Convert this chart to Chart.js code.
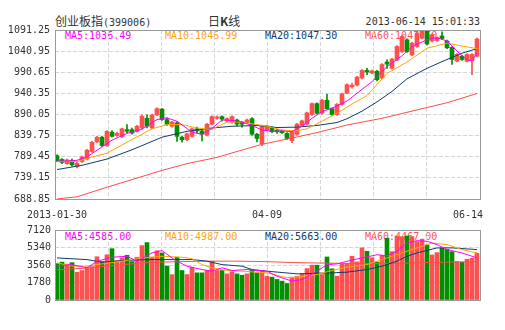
<!DOCTYPE html>
<html>
<head>
<meta charset="utf-8">
<script src="https://cdn.jsdelivr.net/npm/chart.js@4"></script>
<style>
  html, body { margin: 0; padding: 0; background: #fff; }
  #wrap { position: relative; width: 505px; height: 330px; overflow: hidden; }
  .t { position: absolute; white-space: nowrap; font: 10px/12px "DejaVu Sans Mono", monospace; color: #333; }
  .cjk { font: 12px/12px "Noto Sans CJK SC", sans-serif; }
  canvas { position: absolute; left: 0; }
</style>
</head>
<body>
<div id="wrap">
  <div class="t cjk" style="left:55px;top:15px">创业板指<span style="font:10px/12px 'DejaVu Sans Mono',monospace">(399006)</span></div>
  <div class="t cjk" style="left:208px;top:15px">日<b>K</b>线</div>
  <div class="t" style="right:25px;top:16px">2013-06-14 15:01:33</div>

  <div class="t" style="left:65px;top:30px;color:#ff00ff">MA5:1036.49</div>
  <div class="t" style="left:165px;top:30px;color:#ffa500">MA10:1046.99</div>
  <div class="t" style="left:265px;top:30px;color:#103c6c">MA20:1047.30</div>
  <div class="t" style="left:365px;top:30px;color:#ff5555">MA60:1047.60</div>

  <div class="t" style="left:65px;top:231px;color:#ff00ff">MA5:4585.00</div>
  <div class="t" style="left:165px;top:231px;color:#ffa500">MA10:4987.00</div>
  <div class="t" style="left:265px;top:231px;color:#103c6c">MA20:5663.00</div>
  <div class="t" style="left:365px;top:231px;color:#ff5555">MA60:4467.00</div>

  <canvas id="main" width="505" height="225" style="top:0"></canvas>
  <canvas id="vol" width="505" height="92" style="top:218px"></canvas>
</div>
<script>
// daily candles, 2013-01-30 .. 2013-06-14
const opens = [792, 783, 773, 781, 766, 778, 784, 802, 825, 836,
  816, 848, 840, 837, 854, 854, 850, 858, 881, 858,
  889, 903, 878, 862, 870, 836, 830, 838, 856, 851,
  841, 867, 881, 885, 875, 872, 877, 872, 871, 880,
  843, 820, 853, 859, 853, 851, 845, 828, 843, 864,
  867, 890, 916, 893, 924, 904, 890, 914, 941, 956,
  960, 977, 995, 989, 993, 977, 1015, 1000, 1020, 1040,
  1068, 1032, 1052, 1072, 1090, 1065, 1066, 1077, 1065, 1050,
  1017, 1029, 1017, 1018, 1029];
const highs = [794, 785, 784, 784, 776, 791, 807, 826, 838, 838,
  852, 852, 848, 858, 866, 858, 864, 889, 889, 891,
  906, 904, 882, 874, 873, 838, 846, 858, 860, 855,
  869, 887, 887, 887, 882, 887, 879, 874, 879, 883,
  845, 865, 865, 861, 855, 853, 847, 851, 869, 877,
  896, 918, 918, 926, 938, 906, 916, 941, 963, 964,
  981, 997, 1000, 996, 995, 1011, 1020, 1024, 1054, 1078,
  1070, 1062, 1086, 1091, 1091, 1082, 1075, 1087, 1067, 1052,
  1035, 1031, 1035, 1035, 1072];
const lows = [778, 773, 771, 767, 763, 776, 782, 800, 823, 814,
  814, 836, 838, 835, 846, 843, 848, 856, 858, 856,
  887, 876, 864, 860, 826, 824, 828, 836, 845, 827,
  839, 865, 879, 874, 873, 869, 863, 860, 869, 840,
  825, 816, 851, 847, 845, 845, 831, 823, 841, 862,
  865, 888, 891, 891, 902, 888, 888, 912, 939, 953,
  958, 975, 985, 987, 970, 975, 1000, 998, 1018, 1038,
  1038, 1030, 1050, 1070, 1056, 1063, 1064, 1068, 1047, 1009,
  1015, 1019, 1015, 985, 1027];
const closes = [780, 776, 782, 770, 774, 789, 805, 824, 836, 816,
  850, 838, 845, 856, 850, 846, 862, 886, 862, 889,
  904, 878, 866, 872, 838, 830, 844, 856, 851, 843,
  867, 885, 884, 879, 880, 885, 867, 867, 877, 843,
  833, 863, 863, 849, 849, 847, 833, 849, 867, 875,
  894, 916, 893, 924, 904, 890, 914, 939, 961, 960,
  979, 995, 991, 994, 973, 1009, 1010, 1022, 1052, 1076,
  1040, 1060, 1084, 1090, 1058, 1080, 1073, 1071, 1049, 1021,
  1033, 1021, 1033, 1033, 1070];
const volumes = [3700, 3850, 3650, 3800, 2830, 3000, 3270, 3400, 4400, 3910,
  4600, 5220, 4000, 4280, 4550, 3910, 4350, 5530, 5840, 4350,
  5000, 4790, 3450, 2580, 4350, 3000, 2590, 3330, 2760, 2760,
  3000, 3940, 3000, 3000, 2660, 2860, 2660, 2520, 2660, 3100,
  2760, 2930, 2420, 2320, 2090, 1920, 1680, 2320, 2420, 2660,
  3200, 3540, 3540, 2590, 4380, 3170, 2420, 3670, 3670, 4450,
  3880, 5300, 4960, 4300, 3850, 4550, 6280, 4920, 6510, 6440,
  6510, 6440, 5940, 6170, 5600, 4580, 4820, 5260, 5160, 4920,
  3910, 3840, 4150, 4250, 4750];

// moving average lines: [day index, value]
const ma5 = [[0,780],[2,779],[4,781],[6,789],[8,805],[11,829],[14,845],[17,855],[20,878],[22,882],
  [24,874],[27,848],[29,843],[31,857],[33,877],[35,876],[37,872],[39,864],[41,853],[43,850],
  [45,851],[47,849],[49,862],[51,881],[53,897],[55,905],[58,922],[61,950],[63,968],[66,1004],
  [69,1030],[71,1052],[74,1068],[76,1073],[78,1065],[80,1041],[82,1020],[83,1018],[84,1036]];
const ma10 = [[0,778],[4,778],[7,789],[10,798],[14,824],[19,856],[22,866],[25,866],[28,858],[31,855],
  [34,872],[37,872],[40,866],[42,862],[45,853],[48,851],[50,856],[53,874],[56,893],[59,915],
  [62,935],[66,988],[70,1015],[74,1048],[78,1060],[81,1053],[84,1047]];
const ma20 = [[0,759],[5,769],[10,784],[15,806],[21,836],[26,850],[31,858],[35,862],[40,864],[44,859],
  [48,860],[52,864],[56,871],[58,880],[61,898],[64,920],[67,945],[70,975],[74,1000],[77,1016],
  [81,1036],[84,1047]];
const ma60 = [[0,689],[4,694],[10,717],[15,735],[21,757],[26,773],[32,788],[36,802],[41,819],[47,834],
  [52,847],[58,865],[65,881],[72,901],[78,918],[84,940]];

const volMa5 = [[0,3440],[3,3600],[6,3270],[8,3940],[11,4350],[14,4450],[16,3940],[19,4790],[21,5030],[23,4280],
  [24,3950],[26,3440],[29,3100],[31,2930],[33,3270],[35,3000],[38,3100],[42,2930],[44,2420],[47,1920],
  [49,2080],[52,2930],[54,3600],[56,3670],[58,3940],[61,4280],[64,4600],[66,4500],[68,4960],[70,5800],
  [72,6040],[74,5970],[76,5630],[78,5130],[81,4790],[84,4280]];
const volMa10 = [[0,3780],[3,3440],[6,3440],[8,3600],[13,3950],[17,4280],[21,4450],[25,4350],[27,4200],[29,3600],
  [31,3270],[34,3000],[37,2930],[42,2760],[46,2260],[48,2330],[52,2600],[55,3000],[58,3340],[62,3600],
  [65,4110],[70,4960],[72,5300],[75,5800],[78,5640],[81,5130],[84,4790]];
const volMa20 = [[0,4280],[6,4110],[9,3840],[13,4010],[18,4110],[23,4110],[27,4110],[30,3950],[33,3600],[37,3440],
  [39,3100],[42,2930],[48,2660],[55,2760],[58,2830],[62,3100],[65,3440],[68,3950],[70,4450],[72,4790],
  [76,5300],[79,5300],[84,5130]];
const volMa60 = [[0,3070],[6,3250],[12,3550],[18,3800],[24,3900],[30,3950],[36,3950],[42,3900],[48,3800],[54,3750],
  [60,3700],[66,3720],[72,3780],[78,3850],[84,3900]];

const priceTicks = [688.85, 739.15, 789.45, 839.75, 890.05, 940.35, 990.65, 1040.95, 1091.25];
const volTicks = [0, 1780, 3560, 5340, 7120];
const dateLabels = ['2013-01-30', '04-09', '06-14'];
const dateIdx = [0, 42, 84];

const UP = '#ff5050', DOWN = '#009000';
const candleColor = opens.map((o, i) => closes[i] >= o ? UP : DOWN);
const xMin = -0.4, xMax = opens.length - 0.4;
const tickFont = { family: 'DejaVu Sans Mono', size: 10 };
const GRID = '#d6d6d6';

function gridTicks() {
    const t = [];
    for (let k = 0; k <= 8; k++) t.push({ value: xMin + k * (xMax - xMin) / 8 });
    return t;
}

function maLine(points, color) {
    return {
        type: 'line',
        data: points.map(p => ({ x: p[0], y: p[1] })),
        borderColor: color,
        borderWidth: 1,
        pointRadius: 0,
        tension: 0,
        order: 0
    };
}

// plot frame
const frame = {
    id: 'frame',
    afterDraw(chart) {
        const { ctx, chartArea: a } = chart;
        ctx.save();
        ctx.strokeStyle = '#999';
        ctx.lineWidth = 1;
        ctx.strokeRect(a.left + 0.5, a.top + 0.5, a.width, a.height);
        ctx.restore();
    }
};

// date labels under the price panel, last one kept inside the frame
const dateAxis = {
    id: 'dateAxis',
    afterDraw(chart) {
        const { ctx, chartArea: a } = chart;
        const xs = chart.scales.x;
        ctx.save();
        ctx.font = '10px "DejaVu Sans Mono"';
        ctx.fillStyle = '#333';
        ctx.textAlign = 'center';
        ctx.textBaseline = 'middle';
        dateLabels.forEach((lbl, k) => {
            const w = ctx.measureText(lbl).width;
            const x = Math.min(xs.getPixelForValue(dateIdx[k]), a.right + 3 - w / 2);
            ctx.fillText(lbl, x, a.bottom + 16);
        });
        ctx.restore();
    }
};

function gridX(h) {
    return {
        type: 'linear', min: xMin, max: xMax, offset: false,
        afterBuildTicks: s => { s.ticks = gridTicks(); },
        ticks: { display: false },
        grid: { color: GRID, drawTicks: false, offset: false },
        border: { display: false, dash: [4, 2] },
        afterFit: s => { s.height = h; }
    };
}

new Chart(document.getElementById('main'), {
    type: 'bar',
    data: {
        datasets: [
            maLine(ma5, '#ff00ff'),
            maLine(ma10, '#ffa500'),
            maLine(ma20, '#103c6c'),
            maLine(ma60, '#ff4c4c'),
            {
                type: 'bar',
                data: opens.map((o, i) => ({ x: i, y: [o, closes[i]] })),
                backgroundColor: candleColor,
                barThickness: 4,
                minBarLength: 1,
                grouped: false,
                order: 1
            },
            {
                type: 'bar',
                data: lows.map((l, i) => ({ x: i, y: [l, highs[i]] })),
                backgroundColor: candleColor,
                barThickness: 1,
                grouped: false,
                order: 2
            }
        ]
    },
    options: {
        responsive: false,
        animation: false,
        layout: { padding: { top: 30, right: 25, left: 0, bottom: 0 } },
        plugins: { legend: { display: false }, tooltip: { enabled: false } },
        scales: {
            x: gridX(26),
            y: {
                min: priceTicks[0], max: priceTicks[priceTicks.length - 1],
                afterBuildTicks: s => { s.ticks = priceTicks.map(v => ({ value: v })); },
                ticks: { font: tickFont, color: '#333', padding: 5, callback: v => v.toFixed(2) },
                grid: { color: GRID, drawTicks: false },
                border: { display: false, dash: [4, 2] },
                afterFit: s => { s.width = 55; }
            }
        }
    },
    plugins: [frame, dateAxis]
});

new Chart(document.getElementById('vol'), {
    type: 'bar',
    data: {
        datasets: [
            maLine(volMa5, '#ff00ff'),
            maLine(volMa10, '#ffa500'),
            maLine(volMa20, '#103c6c'),
            maLine(volMa60, '#ff4c4c'),
            {
                type: 'bar',
                data: volumes.map((v, i) => ({ x: i, y: v })),
                backgroundColor: candleColor,
                barThickness: 4,
                grouped: false,
                order: 1
            }
        ]
    },
    options: {
        responsive: false,
        animation: false,
        layout: { padding: { top: 12, right: 25, left: 0, bottom: 10 } },
        plugins: { legend: { display: false }, tooltip: { enabled: false } },
        scales: {
            x: gridX(0),
            y: {
                min: volTicks[0], max: volTicks[volTicks.length - 1],
                afterBuildTicks: s => { s.ticks = volTicks.map(v => ({ value: v })); },
                ticks: { font: tickFont, color: '#333', padding: 4, callback: v => String(v) },
                grid: { color: GRID, drawTicks: false },
                border: { display: false, dash: [4, 2] },
                afterFit: s => { s.width = 55; }
            }
        }
    },
    plugins: [frame]
});
</script>
</body>
</html>
